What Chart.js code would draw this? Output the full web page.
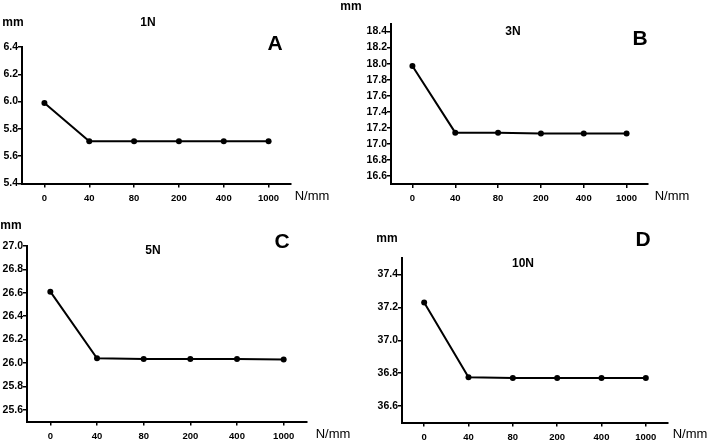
<!DOCTYPE html>
<html>
<head>
<meta charset="utf-8">
<script src="https://cdn.jsdelivr.net/npm/chart.js@4/dist/chart.umd.min.js"></script>
<style>
  html, body { margin: 0; padding: 0; background: #fff; }
  #wrap { position: relative; width: 709px; height: 445px; overflow: hidden; font-family: "Liberation Sans", Arial, sans-serif; color: #000; }
  canvas { position: absolute; left: 0; top: 0; }
  .t { position: absolute; transform: translate(-50%, -50%); white-space: nowrap; line-height: 1; }
  .unit { font-size: 12px; font-weight: bold; }
  .ttl { font-size: 12px; font-weight: bold; }
  .let { font-size: 21px; font-weight: bold; }
  .xu { font-size: 13px; }
</style>
</head>
<body>
<div id="wrap">
  <canvas id="cA" width="709" height="445"></canvas>
  <canvas id="cB" width="709" height="445"></canvas>
  <canvas id="cC" width="709" height="445"></canvas>
  <canvas id="cD" width="709" height="445"></canvas>

  <div class="t unit" style="left:13px;top:22px;">mm</div>
  <div class="t ttl" style="left:148px;top:22px;">1N</div>
  <div class="t let" style="left:275px;top:42px;">A</div>
  <div class="t xu" style="left:312px;top:195px;">N/mm</div>

  <div class="t unit" style="left:351px;top:6px;">mm</div>
  <div class="t ttl" style="left:513px;top:31px;">3N</div>
  <div class="t let" style="left:640px;top:37px;">B</div>
  <div class="t xu" style="left:672px;top:195px;">N/mm</div>

  <div class="t unit" style="left:11px;top:225px;">mm</div>
  <div class="t ttl" style="left:153px;top:250px;">5N</div>
  <div class="t let" style="left:282px;top:240px;">C</div>
  <div class="t xu" style="left:333px;top:433px;">N/mm</div>

  <div class="t unit" style="left:387px;top:238px;">mm</div>
  <div class="t ttl" style="left:523px;top:263px;">10N</div>
  <div class="t let" style="left:643px;top:238px;">D</div>
  <div class="t xu" style="left:690px;top:433px;">N/mm</div>
</div>
<script>
// ---- data ----
const categories = ['0', '40', '80', '200', '400', '1000'];

const valuesA = [5.99, 5.71, 5.71, 5.71, 5.71, 5.71];
const valuesB = [17.97, 17.14, 17.14, 17.13, 17.13, 17.13];
const valuesC = [26.61, 26.04, 26.035, 26.035, 26.035, 26.03];
const valuesD = [37.23, 36.775, 36.77, 36.77, 36.77, 36.77];

const yTicksA = [5.4, 5.6, 5.8, 6.0, 6.2, 6.4];
const yTicksB = [16.6, 16.8, 17.0, 17.2, 17.4, 17.6, 17.8, 18.0, 18.2, 18.4];
const yTicksC = [25.6, 25.8, 26.0, 26.2, 26.4, 26.6, 26.8, 27.0];
const yTicksD = [36.6, 36.8, 37.0, 37.2, 37.4];

const yRangeA = [5.4, 6.4];
const yRangeB = [16.5, 18.5];
const yRangeC = [25.5, 27.0];
const yRangeD = [36.5, 37.5];

// ---- layout ----
const W = 709, H = 445, XH = 22;

function makeChart(id, values, yTicks, yRange, area) {
  const YW = Math.min(area.left, 36);
  const pad = {
    left: area.left - YW,
    right: W - area.right,
    top: area.top,
    bottom: H - area.bottom - XH
  };
  const yFont = { family: '"Liberation Sans", Arial, sans-serif', size: 10.5, weight: 'bold' };
  const xFont = { family: '"Liberation Sans", Arial, sans-serif', size: 9.5, weight: 'bold' };
  return new Chart(document.getElementById(id), {
    type: 'line',
    data: {
      labels: categories,
      datasets: [{
        data: values,
        borderColor: '#000',
        backgroundColor: '#000',
        borderWidth: 2,
        pointRadius: 3,
        pointBackgroundColor: '#000',
        pointBorderColor: '#000',
        pointBorderWidth: 0,
        tension: 0,
        clip: false
      }]
    },
    options: {
      responsive: false,
      animation: false,
      events: [],
      layout: { padding: pad },
      plugins: { legend: { display: false }, title: { display: false }, tooltip: { enabled: false } },
      scales: {
        x: {
          type: 'category',
          offset: true,
          grid: { display: true, drawOnChartArea: false, drawTicks: true, tickLength: 4, color: '#000', lineWidth: 1.5 },
          border: { display: true, color: '#000', width: 2 },
          ticks: { color: '#000', font: xFont, padding: 5, maxRotation: 0, autoSkip: false },
          afterFit: s => { s.height = XH; }
        },
        y: {
          min: yRange[0],
          max: yRange[1],
          grid: { display: true, drawOnChartArea: false, drawTicks: true, tickLength: 4, color: '#000', lineWidth: 1.5 },
          border: { display: true, color: '#000', width: 2 },
          ticks: { color: '#000', font: yFont, padding: 0, callback: v => Number(v).toFixed(1) },
          afterBuildTicks: s => { s.ticks = yTicks.map(v => ({ value: v })); },
          afterFit: s => { s.width = YW; }
        }
      }
    }
  });
}

makeChart('cA', valuesA, yTicksA, yRangeA, { left: 22, right: 291, top: 47, bottom: 183.5 });
makeChart('cB', valuesB, yTicksB, yRangeB, { left: 391, right: 648, top: 23.5, bottom: 184 });
makeChart('cC', valuesC, yTicksC, yRangeC, { left: 27, right: 307, top: 246, bottom: 421.5 });
makeChart('cD', valuesD, yTicksD, yRangeD, { left: 402, right: 668, top: 258, bottom: 422.5 });
</script>
</body>
</html>
